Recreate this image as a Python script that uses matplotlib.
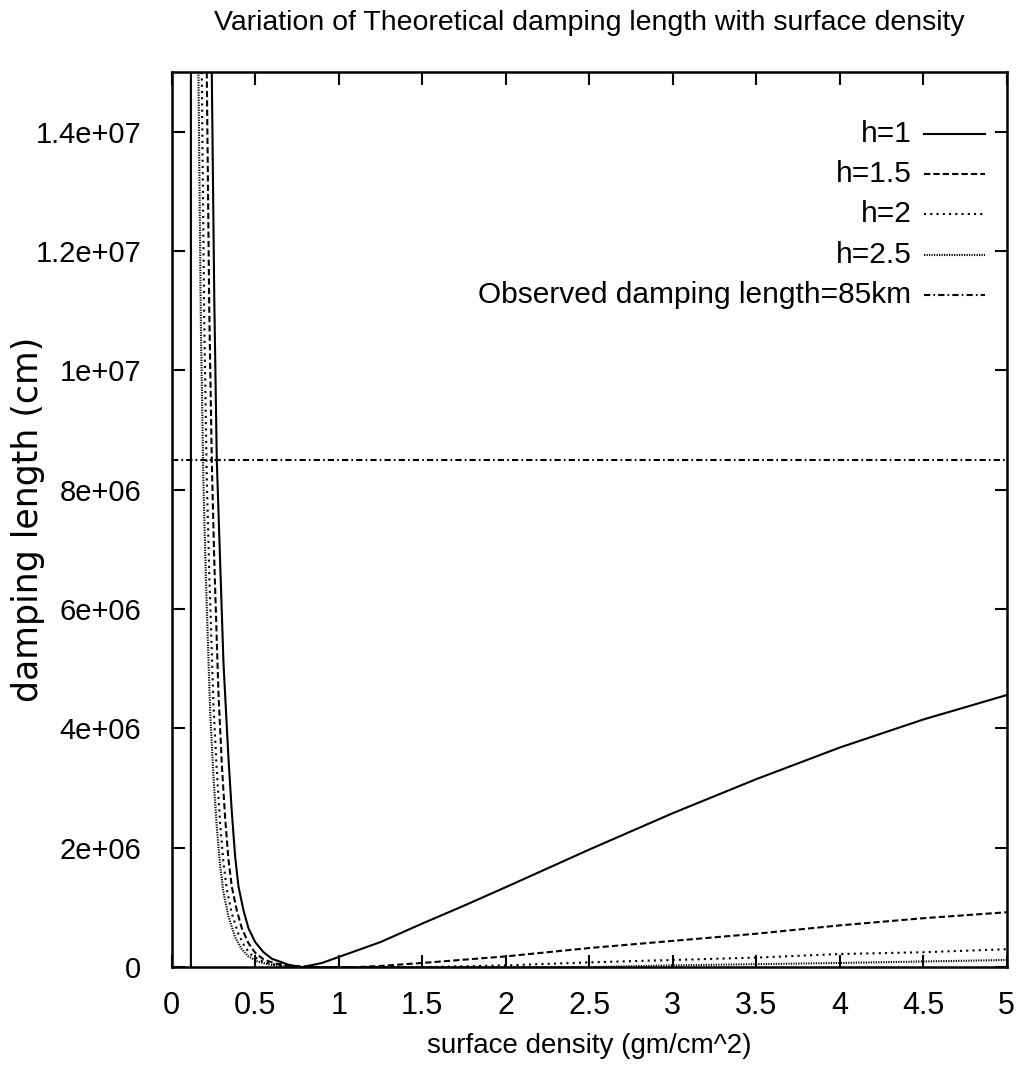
import numpy as np
import matplotlib
matplotlib.use("Agg")
import matplotlib.pyplot as plt

nan = np.nan

# values (x = surface density, y = damping length in cm)
sigma_h1 = [0.115, 0.115, nan, 0.24, 0.255, 0.27, 0.29, 0.31, 0.34, 0.36, 0.38, 0.40, 0.43,
            0.46, 0.50, 0.55, 0.60, 0.70, 0.78, 0.90, 1.0, 1.25, 1.5, 1.75, 2.0, 2.5, 3.0,
            3.5, 4.0, 4.5, 5.0]
damp_h1 = [0, 1.6e7, nan, 1.5e7, 1.12e7, 8.5e6, 6.8e6, 5.1e6, 3.5e6, 2.6e6, 1.85e6, 1.35e6,
           0.95e6, 0.65e6, 0.42e6, 0.25e6, 0.14e6, 0.04e6, 0.0, 0.07e6, 0.17e6, 0.42e6,
           0.73e6, 1.03e6, 1.34e6, 1.97e6, 2.58e6, 3.15e6, 3.68e6, 4.15e6, 4.56e6]

sigma_h15 = [0.21, 0.225, 0.24, 0.255, 0.28, 0.30, 0.32, 0.34, 0.36, 0.39, 0.42, 0.46, 0.50,
             0.55, 0.62, 0.75, 0.9, 1.1, 1.25, 1.5, 2.0, 2.5, 3.0, 3.5, 4.0, 4.5, 5.0]
damp_h15 = [1.5e7, 1.1e7, 8.5e6, 6.8e6, 4.6e6, 3.4e6, 2.5e6, 1.8e6, 1.35e6, 0.95e6, 0.65e6,
            0.4e6, 0.24e6, 0.13e6, 0.06e6, 0.015e6, 0.0, 0.0, 0.02e6, 0.07e6, 0.18e6, 0.32e6,
            0.44e6, 0.56e6, 0.7e6, 0.82e6, 0.92e6]

sigma_h2 = [0.18, 0.195, 0.21, 0.225, 0.25, 0.27, 0.29, 0.31, 0.33, 0.36, 0.40, 0.44, 0.48,
            0.53, 0.60, 0.70, 0.85, 1.5, 2.0, 2.5, 3.0, 3.5, 4.0, 4.5, 5.0]
damp_h2 = [1.5e7, 1.08e7, 8.2e6, 6.6e6, 4.4e6, 3.3e6, 2.4e6, 1.75e6, 1.3e6, 0.9e6, 0.55e6,
           0.33e6, 0.2e6, 0.11e6, 0.05e6, 0.015e6, 0.0, 0.0, 0.03e6, 0.08e6, 0.12e6, 0.16e6,
           0.22e6, 0.25e6, 0.3e6]

sigma_h25 = [0.16, 0.175, 0.19, 0.205, 0.23, 0.25, 0.27, 0.29, 0.31, 0.34, 0.38, 0.42, 0.46,
             0.51, 0.58, 0.68, 0.80, 2.5, 3.0, 4.0, 5.0]
damp_h25 = [1.5e7, 1.07e7, 8.1e6, 6.5e6, 4.3e6, 3.2e6, 2.35e6, 1.7e6, 1.25e6, 0.85e6, 0.5e6,
            0.3e6, 0.18e6, 0.1e6, 0.045e6, 0.012e6, 0.0, 0.0, 0.03e6, 0.07e6, 0.12e6]

observed = 8.5e6
x_ticks = [0, 0.5, 1, 1.5, 2, 2.5, 3, 3.5, 4, 4.5, 5]
x_tick_labels = ["0", "0.5", "1", "1.5", "2", "2.5", "3", "3.5", "4", "4.5", "5"]
y_ticks = [0, 2e6, 4e6, 6e6, 8e6, 1e7, 1.2e7, 1.4e7]
y_tick_labels = ["0", "2e+06", "4e+06", "6e+06", "8e+06", "1e+07", "1.2e+07", "1.4e+07"]
legend_labels = ["h=1", "h=1.5", "h=2", "h=2.5", "Observed damping length=85km"]

font = ["Liberation Sans", "DejaVu Sans"]
lw = 1.5
styles = ["-", (0, (3, 1.5)), (0, (1, 2)), (0, (0.6, 0.6)), (0, (3, 1.5, 0.8, 1.5))]

fig = plt.figure(figsize=(10.22, 10.77), dpi=100)
ax = fig.add_axes([0.168, 0.102, 0.817, 0.831])

series = [(sigma_h1, damp_h1), (sigma_h15, damp_h15), (sigma_h2, damp_h2), (sigma_h25, damp_h25)]
for (xs, ys), ls in zip(series, styles):
    ax.plot(xs, ys, color="black", lw=lw, ls=ls)
ax.axhline(observed, color="black", lw=lw, ls=styles[4])

ax.set_xlim(0, 5)
ax.set_ylim(0, 1.5e7)
ax.set_xticks(x_ticks)
ax.set_xticklabels(x_tick_labels, family=font, fontsize=22)
ax.set_yticks(y_ticks)
ax.set_yticklabels(y_tick_labels, family=font, fontsize=21)
ax.tick_params(axis="both", direction="in", length=9, width=1.5, top=True, right=True)
ax.tick_params(axis="y", pad=22)
ax.tick_params(axis="x", pad=17)
for s in ax.spines.values():
    s.set_linewidth(1.8)

ax.set_title("Variation of Theoretical damping length with surface density",
             family=font, fontsize=20.5, pad=30)
ax.set_xlabel("surface density (gm/cm^2)", family=font, fontsize=20, labelpad=9)
ax.set_ylabel("damping length (cm)", family=["DejaVu Sans"], fontsize=25)
ax.yaxis.set_label_coords(-0.152, 0.5)

# gnuplot style key: right aligned labels, line sample to the right
for i, (label, ls) in enumerate(zip(legend_labels, styles)):
    y = 0.931 - i * 0.045
    ax.plot([0.901, 0.974], [y, y], transform=ax.transAxes, color="black", lw=lw, ls=ls)
    ax.text(0.886, y, label, transform=ax.transAxes, ha="right", va="center",
            family=font, fontsize=21.5)

fig.savefig("out.png", dpi=100)
